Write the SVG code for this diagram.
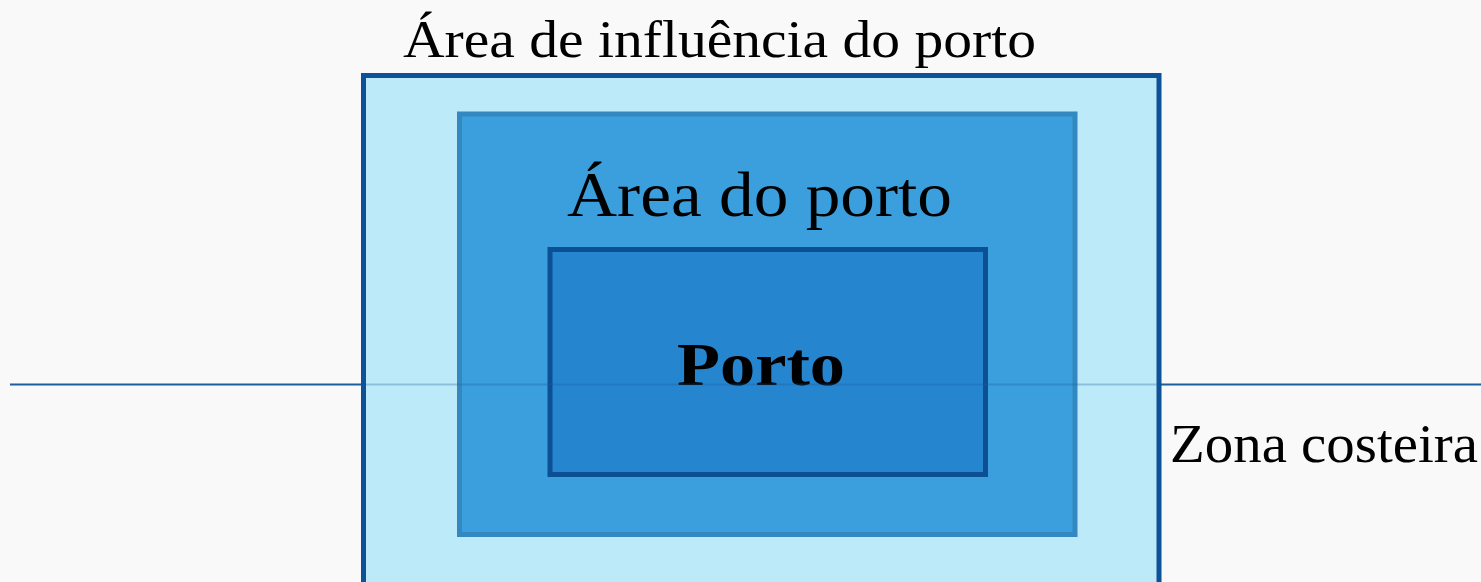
<svg xmlns="http://www.w3.org/2000/svg" width="1481" height="582" viewBox="0 0 1481 582">
<style>
text{font-family:"Liberation Serif","DejaVu Serif",serif;fill:#000}
</style>
<rect x="0" y="0" width="1481" height="582" fill="#f9f9f9"/>
<g id="connectors">
<line x1="10" y1="384.5" x2="1481" y2="384.5" stroke="#1b5d9f" stroke-width="2"/>
</g>
<g id="influence">
<rect x="363.5" y="75.5" width="795.5" height="520" fill="#bdeaf8" stroke="#0d5196" stroke-width="5"/>
<text x="403" y="57" font-size="52" textLength="633" lengthAdjust="spacingAndGlyphs">Área de influência do porto</text>
</g>
<g id="port-area">
<rect x="459.5" y="114" width="615.5" height="420.5" fill="#3a9fdc" stroke="#3388bf" stroke-width="5"/>
<text x="567" y="216" font-size="63" textLength="385" lengthAdjust="spacingAndGlyphs">Área do porto</text>
</g>
<g id="port">
<rect x="550" y="249.5" width="435.5" height="225" fill="#2585cf" stroke="#0c4f93" stroke-width="5"/>
<text x="677" y="385" font-size="62" font-weight="bold" textLength="168" lengthAdjust="spacingAndGlyphs">Porto</text>
</g>
<line x1="366" y1="384.5" x2="1156.5" y2="384.5" stroke="#1b5d9f" stroke-width="2" stroke-opacity="0.3"/>
<g id="coastal">
<text x="1170" y="462" font-size="55" textLength="308" lengthAdjust="spacingAndGlyphs">Zona costeira</text>
</g>
</svg>
